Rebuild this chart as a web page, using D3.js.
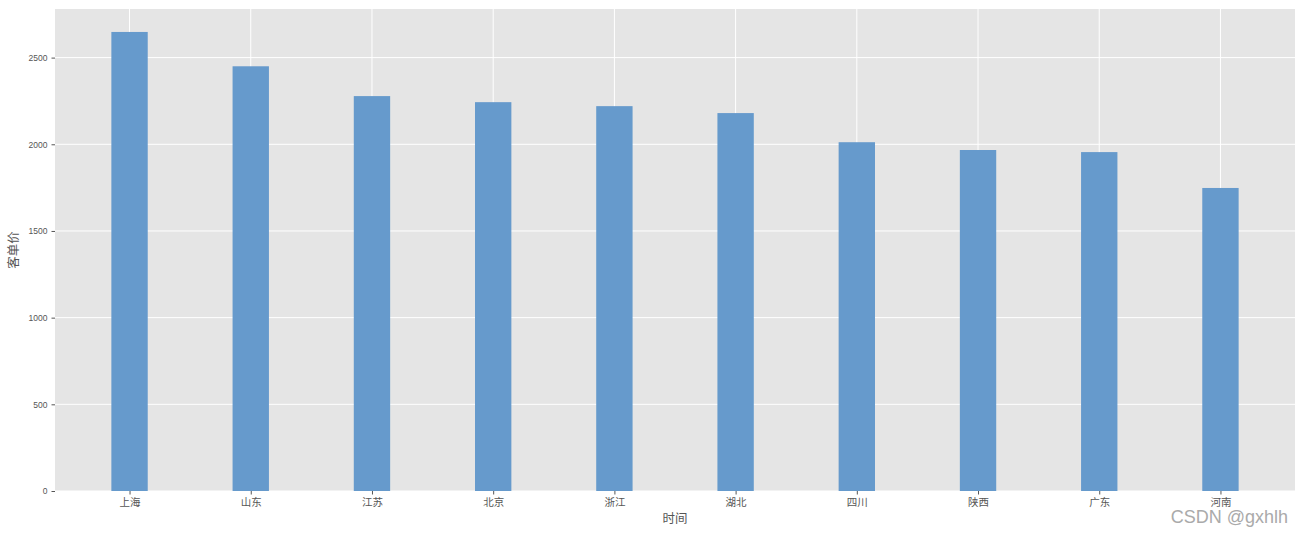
<!DOCTYPE html>
<html>
<head>
<meta charset="utf-8">
<script src="https://cdnjs.cloudflare.com/ajax/libs/d3/7.8.5/d3.min.js"></script>
<style>
  body { margin: 0; background: #fff; }
  svg text { font-family: "Liberation Sans", "Noto Sans CJK SC", sans-serif; }
</style>
</head>
<body>
<svg id="chart" width="1303" height="534"></svg>
<script>
// cities and their average order value (客单价)
var cities = ["上海", "山东", "江苏", "北京", "浙江", "湖北", "四川", "陕西", "广东", "河南"];
var values = [2648, 2450, 2278, 2243, 2220, 2180, 2012, 1967, 1955, 1748];
var yTicks = [0, 500, 1000, 1500, 2000, 2500];

var svg = d3.select("svg#chart"),
    margin = {top: 9, right: 8, bottom: 43, left: 55},
    width = +svg.attr("width") - margin.left - margin.right,
    height = +svg.attr("height") - margin.top - margin.bottom;

var g = svg.append("g")
    .attr("transform", "translate(" + margin.left + "," + margin.top + ")");

// background
g.append("rect")
    .attr("width", width)
    .attr("height", height)
    .attr("fill", "#e5e5e5");

// matplotlib-like linear x scale with bar width 0.3
var barW = 0.3;
var pad = 0.05 * (cities.length - 1 + barW);
var x = d3.scaleLinear()
    .domain([-barW / 2 - pad, cities.length - 1 + barW / 2 + pad])
    .range([0, width]);

var y = d3.scaleLinear()
    .domain([0, d3.max(values) * 1.05])
    .range([height, 0]);

// grid lines
g.append("g").selectAll("line.h")
    .data(yTicks)
    .enter().append("line")
    .attr("x1", 0).attr("x2", width)
    .attr("y1", function(d) { return y(d); })
    .attr("y2", function(d) { return y(d); })
    .attr("stroke", "#fff").attr("stroke-width", 1);

g.append("g").selectAll("line.v")
    .data(cities)
    .enter().append("line")
    .attr("x1", function(d, i) { return x(i); })
    .attr("x2", function(d, i) { return x(i); })
    .attr("y1", 0).attr("y2", height)
    .attr("stroke", "#fff").attr("stroke-width", 1);

// bars
g.append("g").selectAll("rect")
    .data(values)
    .enter().append("rect")
    .attr("x", function(d, i) { return x(i - barW / 2); })
    .attr("width", x(barW) - x(0))
    .attr("y", function(d) { return y(d); })
    .attr("height", function(d) { return height - y(d); })
    .attr("fill", "#669acc");

// axes
var xAxis = d3.axisBottom(x)
    .tickValues(d3.range(cities.length))
    .tickFormat(function(i) { return cities[i]; })
    .tickSize(3.5).tickPadding(3);

var yAxis = d3.axisLeft(y)
    .tickValues(yTicks)
    .tickFormat(d3.format("d"))
    .tickSize(3.5).tickPadding(4);

var gx = g.append("g")
    .attr("transform", "translate(0," + height + ")")
    .call(xAxis);
gx.select(".domain").remove();
gx.selectAll(".tick line").attr("stroke", "#555");
gx.selectAll(".tick text")
    .attr("fill", "#555")
    .attr("dy", "0.85em")
    .style("font-size", "10.5px")
    .style("font-family", "'Noto Sans CJK SC', sans-serif");

var gy = g.append("g").call(yAxis);
gy.select(".domain").remove();
gy.selectAll(".tick line").attr("stroke", "#555");
gy.selectAll(".tick text")
    .attr("fill", "#555")
    .style("font-size", "8.5px");

// axis labels
svg.append("text")
    .attr("x", margin.left + width / 2)
    .attr("y", 523)
    .attr("text-anchor", "middle")
    .attr("fill", "#555")
    .style("font-size", "12.5px")
    .style("font-family", "'Noto Sans CJK SC', sans-serif")
    .text("时间");

svg.append("text")
    .attr("transform", "translate(18," + (margin.top + height / 2) + ") rotate(-90)")
    .attr("text-anchor", "middle")
    .attr("fill", "#555")
    .style("font-size", "12.5px")
    .style("font-family", "'Noto Sans CJK SC', sans-serif")
    .text("客单价");

// watermark
svg.append("text")
    .attr("x", 1288)
    .attr("y", 523)
    .attr("text-anchor", "end")
    .attr("fill", "#aaa")
    .attr("stroke", "#fff")
    .attr("stroke-width", 0.6)
    .attr("paint-order", "stroke")
    .style("font-size", "18px")
    .text("CSDN @gxhlh");
</script>
</body>
</html>
